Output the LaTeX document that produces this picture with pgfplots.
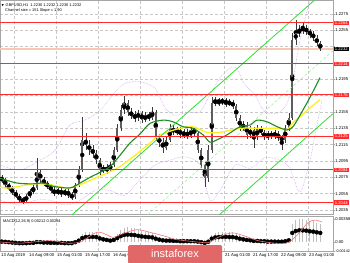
\documentclass[border=0pt]{standalone}
\usepackage{fontspec}
\setmainfont{Liberation Sans}
\newfontfamily\dejavu{DejaVu Sans}
\usepackage{pgfplots}
\usepackage{pgfplotstable}
\pgfplotsset{compat=1.18}

\definecolor{candle}{HTML}{5E5E5E}
\definecolor{wick}{HTML}{3A3A3A}
\definecolor{maY}{HTML}{FFEE22}
\definecolor{maG}{HTML}{1E8C1E}
\definecolor{chan}{HTML}{33DD33}
\definecolor{chanmid}{HTML}{99EE99}
\definecolor{band}{HTML}{CC99EE}
\definecolor{lvl}{HTML}{FF2A2A}
\definecolor{bid}{HTML}{F7C9B5}
\definecolor{hist}{HTML}{BEBEBE}
\definecolor{sig}{HTML}{F07878}
\definecolor{insta}{HTML}{E26868}
\definecolor{gridc}{HTML}{C8C8C8}

\newcommand\tf{\fontsize{4.2}{4.2}\selectfont}

\pgfplotstableread{
x o h l c
1.75 1.2074 1.2078 1.2068 1.2072
5.25 1.2072 1.2074 1.2062 1.2066
8.75 1.2066 1.2068 1.2058 1.2062
12.25 1.2062 1.2064 1.2053 1.2056
15.75 1.2056 1.2059 1.2050 1.2052
19.25 1.2052 1.2055 1.2045 1.2047
22.75 1.2047 1.2051 1.2042 1.2046
26.25 1.2046 1.2055 1.2044 1.2052
29.75 1.2052 1.2061 1.2050 1.2057
33.25 1.2057 1.2066 1.2055 1.2062
36.75 1.2062 1.2099 1.2059 1.2082
40.25 1.2082 1.2084 1.2068 1.2072
43.75 1.2072 1.2075 1.2064 1.2068
47.25 1.2068 1.2070 1.2061 1.2064
50.75 1.2064 1.2067 1.2056 1.2059
54.25 1.2059 1.2063 1.2052 1.2056
57.75 1.2056 1.2062 1.2053 1.2059
61.25 1.2059 1.2062 1.2051 1.2055
64.75 1.2055 1.2061 1.2052 1.2058
68.25 1.2058 1.2061 1.2050 1.2053
71.75 1.2053 1.2057 1.2047 1.2051
75.25 1.2051 1.2068 1.2048 1.2066
78.75 1.2066 1.2089 1.2063 1.2084
82.25 1.2084 1.2149 1.2082 1.2121
85.75 1.2121 1.2129 1.2108 1.2115
89.25 1.2115 1.2121 1.2102 1.2108
92.75 1.2108 1.2115 1.2099 1.2105
96.25 1.2105 1.2108 1.2091 1.2096
99.75 1.2096 1.2099 1.2078 1.2084
103.25 1.2084 1.2090 1.2080 1.2086
106.75 1.2086 1.2091 1.2079 1.2084
110.25 1.2084 1.2094 1.2082 1.2090
113.75 1.2090 1.2112 1.2088 1.2108
117.25 1.2108 1.2140 1.2106 1.2135
120.75 1.2135 1.2164 1.2132 1.2157
124.25 1.2157 1.2175 1.2153 1.2166
127.75 1.2166 1.2170 1.2150 1.2155
131.25 1.2155 1.2160 1.2146 1.2151
134.75 1.2151 1.2156 1.2143 1.2148
138.25 1.2148 1.2157 1.2144 1.2154
141.75 1.2154 1.2156 1.2142 1.2145
145.25 1.2145 1.2155 1.2143 1.2151
148.75 1.2151 1.2155 1.2144 1.2148
152.25 1.2148 1.2161 1.2145 1.2155
155.75 1.2155 1.2157 1.2119 1.2123
159.25 1.2123 1.2128 1.2112 1.2118
162.75 1.2118 1.2123 1.2105 1.2111
166.25 1.2111 1.2124 1.2108 1.2121
169.75 1.2121 1.2140 1.2118 1.2135
173.25 1.2135 1.2139 1.2127 1.2130
176.75 1.2130 1.2137 1.2127 1.2133
180.25 1.2133 1.2137 1.2123 1.2127
183.75 1.2127 1.2134 1.2123 1.2130
187.25 1.2130 1.2134 1.2122 1.2126
190.75 1.2126 1.2137 1.2123 1.2133
194.25 1.2133 1.2137 1.2126 1.2129
197.75 1.2129 1.2132 1.2105 1.2108
201.25 1.2108 1.2111 1.2086 1.2090
204.75 1.2090 1.2094 1.2063 1.2074
208.25 1.2074 1.2115 1.2069 1.2108
211.75 1.2108 1.2173 1.2105 1.2166
215.25 1.2166 1.2173 1.2162 1.2170
218.75 1.2170 1.2172 1.2162 1.2166
222.25 1.2166 1.2172 1.2164 1.2170
225.75 1.2170 1.2172 1.2161 1.2165
229.25 1.2165 1.2171 1.2162 1.2167
232.75 1.2167 1.2170 1.2159 1.2162
236.25 1.2162 1.2165 1.2144 1.2148
239.75 1.2148 1.2151 1.2132 1.2135
243.25 1.2135 1.2144 1.2132 1.2139
246.75 1.2139 1.2143 1.2122 1.2127
250.25 1.2127 1.2138 1.2123 1.2133
253.75 1.2133 1.2137 1.2111 1.2124
257.25 1.2124 1.2139 1.2121 1.2135
260.75 1.2135 1.2138 1.2127 1.2130
264.25 1.2130 1.2133 1.2121 1.2124
267.75 1.2124 1.2132 1.2121 1.2128
271.25 1.2128 1.2132 1.2122 1.2126
274.75 1.2126 1.2133 1.2122 1.2129
278.25 1.2129 1.2132 1.2119 1.2123
281.75 1.2123 1.2127 1.2108 1.2121
285.25 1.2121 1.2139 1.2117 1.2135
288.75 1.2135 1.2154 1.2132 1.2148
292.25 1.2148 1.2252 1.2145 1.2243
295.75 1.2243 1.2268 1.2237 1.2252
299.25 1.2252 1.2262 1.2247 1.2255
302.75 1.2255 1.2265 1.2251 1.2258
306.25 1.2258 1.2262 1.2249 1.2253
309.75 1.2253 1.2257 1.2246 1.2251
313.25 1.2251 1.2254 1.2242 1.2246
316.75 1.2246 1.2249 1.2236 1.2239
320.25 1.2239 1.2242 1.2230 1.2232
}\candles

\pgfplotstableread{
x v
1.75 0.0001
5.25 0.00003
8.75 -0.0001
12.25 -0.0002
15.75 -0.0003
19.25 -0.0004
22.75 -0.0004
26.25 -0.0004
29.75 -0.0003
33.25 -0.0003
36.75 -0.00005
40.25 -0.0001
43.75 -0.0002
47.25 -0.0002
50.75 -0.0003
54.25 -0.0003
57.75 -0.0003
61.25 -0.0003
64.75 -0.0004
68.25 -0.0004
71.75 -0.0004
75.25 -0.0001
78.75 0.0004
82.25 0.0012
85.75 0.0015
89.25 0.0016
92.75 0.0016
96.25 0.0015
99.75 0.0011
103.25 0.0008
106.75 0.0006
110.25 0.0004
113.75 0.0006
117.25 0.0012
120.75 0.0018
124.25 0.0022
127.75 0.0023
131.25 0.0022
134.75 0.0021
138.25 0.0019
141.75 0.0017
145.25 0.0016
148.75 0.0015
152.25 0.0014
155.75 0.0010
159.25 0.0007
162.75 0.0005
166.25 0.0004
169.75 0.0004
173.25 0.0003
176.75 0.0003
180.25 0.0002
183.75 0.0002
187.25 0.0002
190.75 0.0002
194.25 0.0002
197.75 0.0001
201.25 -0.0001
204.75 -0.0003
208.25 0.00005
211.75 0.0010
215.25 0.0014
218.75 0.0015
222.25 0.0016
225.75 0.0016
229.25 0.0015
232.75 0.0015
236.25 0.0013
239.75 0.0010
243.25 0.0008
246.75 0.0006
250.25 0.0005
253.75 0.0003
257.25 0.0003
260.75 0.0002
264.25 0.0002
267.75 0.0001
271.25 0.0001
274.75 0.0001
278.25 0.00005
281.75 0.00005
285.25 0.0002
288.75 0.0005
292.25 0.0028
295.75 0.0034
299.25 0.0036
302.75 0.0036
306.25 0.0035
309.75 0.0033
313.25 0.0032
316.75 0.0030
320.25 0.0028
}\macd

\begin{document}
\begin{tikzpicture}
\useasboundingbox (0,0) rectangle (350pt,262pt);
\begin{axis}[
  at={(0pt,48pt)}, anchor=south west, scale only axis,
  width=333pt, height=214pt,
  xmin=0, xmax=333, ymin=1.20301, ymax=1.22921,
  clip mode=individual,
  axis line style={draw=gray!70, line width=0.5pt},
  xtick={14,56,98,140,182,224,266,308}, xticklabels={}, xtick style={draw=none},
  ytick={1.2035,1.2055,1.2075,1.2095,1.2115,1.2135,1.2155,1.2175,1.2195,1.2215,1.2235,1.2255,1.2275},
  yticklabels={1.2035,1.2055,1.2075,1.2095,1.2115,1.2135,1.2155,{},1.2195,{},{},1.2255,1.2275},
  ytick pos=right, yticklabel pos=right,
  ytick style={draw=gray!70, line width=0.4pt}, tick align=outside, major tick length=1.5pt,
  yticklabel style={font=\tf, inner sep=0.6pt},
  grid=major, grid style={gridc, densely dashed, line width=0.4pt},
  scaled y ticks=false,
]
\addplot[bid, line width=1.6pt] coordinates {(0,1.2232) (333,1.2232)};
\addplot[band, densely dotted, line width=0.55pt, smooth] coordinates {
(0,1.2090) (20,1.2084) (40,1.2096) (55,1.2108) (70,1.2139) (85,1.2145) (100,1.2157) (115,1.2179) (125,1.2190) (140,1.2192) (155,1.2184) (165,1.2160) (175,1.2151) (190,1.2155) (200,1.2155) (210,1.2176) (222,1.2200) (235,1.2210) (245,1.2188) (255,1.2176) (265,1.2155) (280,1.2155) (290,1.2176) (300,1.2243) (310,1.2292) (315,1.2317)};
\addplot[band, densely dotted, line width=0.55pt, smooth] coordinates {
(0,1.2047) (20,1.2041) (35,1.2047) (50,1.2047) (65,1.2041) (80,1.2047) (95,1.2059) (110,1.2059) (125,1.2053) (140,1.2072) (155,1.2090) (170,1.2096) (185,1.2100) (200,1.2090) (210,1.2047) (220,1.2059) (235,1.2090) (250,1.2086) (265,1.2099) (280,1.2096) (290,1.2086) (300,1.2057) (310,1.2096) (317,1.2139) (322,1.2170)};
\addplot[only marks, mark=none, error bars/.cd, y dir=both, y explicit, error mark=none,
  error bar style={draw=wick, line width=0.45pt}]
  table[x=x, y expr={(\thisrow{h}+\thisrow{l})/2}, y error expr={(\thisrow{h}-\thisrow{l})/2}] {\candles};
\addplot[only marks, mark=none, error bars/.cd, y dir=both, y explicit, error mark=none,
  error bar style={draw=candle, line width=1.8pt}]
  table[x=x, y expr={(\thisrow{o}+\thisrow{c})/2}, y error expr={abs(\thisrow{c}-\thisrow{o})/2}] {\candles};
\addplot[maY, line width=1.3pt, smooth] coordinates {
(0,1.2063) (10,1.2062) (33,1.2067) (50,1.2066) (67,1.2062) (80,1.2066) (97,1.2075) (117,1.2086) (133,1.2100) (150,1.2117) (160,1.2127) (180,1.2135) (193,1.2137) (207,1.2130) (220,1.2130) (240,1.2135) (260,1.2135) (280,1.2135) (287,1.2133) (293,1.2142) (300,1.2149) (310,1.2160) (320,1.2170)};
\addplot[maG, line width=1.1pt, smooth] coordinates {
(0,1.2074) (17,1.2068) (33,1.2067) (43,1.2068) (53,1.2064) (70,1.2062) (80,1.2068) (90,1.2075) (100,1.2081) (110,1.2088) (120,1.2102) (130,1.2117) (140,1.2128) (150,1.2141) (163,1.2145) (173,1.2143) (183,1.2137) (193,1.2135) (203,1.2127) (210,1.2118) (217,1.2121) (227,1.2127) (240,1.2137) (250,1.2139) (257,1.2145) (267,1.2143) (277,1.2137) (287,1.2133) (293,1.2137) (300,1.2151) (310,1.2173) (320,1.2197)};
\addplot[chan, line width=0.8pt] coordinates {(70,1.2027) (333,1.2312)};
\addplot[chanmid, densely dashed, line width=0.5pt] coordinates {(140,1.2021) (333,1.2230)};
\addplot[chan, line width=0.8pt] coordinates {(210,1.2019) (333,1.2153)};
\addplot[lvl, line width=1pt] coordinates {(0,1.2264) (333,1.2264)};
\addplot[lvl, line width=1pt] coordinates {(0,1.2214) (333,1.2214)};
\addplot[lvl, line width=1pt] coordinates {(0,1.2176) (333,1.2176)};
\addplot[lvl, line width=1pt] coordinates {(0,1.2125) (333,1.2125)};
\addplot[lvl, line width=1pt] coordinates {(0,1.2084) (333,1.2084)};
\addplot[lvl, line width=1pt] coordinates {(0,1.2044) (333,1.2044)};
\tikzset{lab/.style={fill=lvl, text=white, font=\tf, inner xsep=1.2pt, inner ysep=0.8pt, anchor=west}}
\node[lab] at (axis cs:333.5,1.2264) {1.2264};
\node[lab] at (axis cs:333.5,1.2214) {1.2214};
\node[lab] at (axis cs:333.5,1.2176) {1.2176};
\node[lab] at (axis cs:333.5,1.2125) {1.2125};
\node[lab] at (axis cs:333.5,1.2084) {1.2084};
\node[lab] at (axis cs:333.5,1.2044) {1.2044};
\node[lab, fill=black] at (axis cs:333.5,1.2232) {1.2232};
\end{axis}

\begin{axis}[
  at={(0pt,11pt)}, anchor=south west, scale only axis,
  width=333pt, height=35pt,
  xmin=0, xmax=333, ymin=-0.00142, ymax=0.00405,
  disabledatascaling,
  clip mode=individual,
  axis line style={draw=gray!70, line width=0.5pt},
  xtick={1,29,57,85,113,141,169,197,225,253,281,309},
  xticklabels={13 Aug 2019,14 Aug 09:00,15 Aug 01:00,15 Aug 17:00,16 Aug 09:00,{},{},{},21 Aug 01:00,21 Aug 17:00,22 Aug 09:00,23 Aug 01:00},
  xtick pos=bottom,
  xticklabel style={font=\tf, anchor=north west, inner sep=0.5pt, xshift=-0.5pt},
  extra x ticks={14,56,98,140,182,224,266,308}, extra x tick labels={},
  extra x tick style={grid=major, major tick length=0pt},
  grid style={gridc, densely dashed, line width=0.4pt},
  ytick={-0.00142,0,0.00358}, yticklabels={{\fontsize{3.7}{3.7}\selectfont -0.00142},0.00,0.00358},
  ytick pos=right, yticklabel pos=right,
  tick style={draw=gray!70, line width=0.4pt}, tick align=outside, major tick length=1.5pt,
  yticklabel style={font=\tf, inner sep=0.6pt},
  scaled y ticks=false,
]
\addplot[only marks, mark=none, error bars/.cd, y dir=both, y explicit, error mark=none,
  error bar style={draw=hist, line width=1.1pt}]
  table[x=x, y expr={\thisrow{v}/2}, y error expr={abs(\thisrow{v})/2}] {\macd};
\addplot[sig, line width=0.6pt, smooth] coordinates {
(0,0.0000) (20,-0.0002) (50,0.0002) (67,-0.0002) (80,0.0000) (97,0.0015) (107,0.0011) (113,0.0007) (123,0.0013) (137,0.0019) (150,0.0015) (167,0.0008) (175,0.0004) (190,0.0001) (208,-0.0001) (218,0.0007) (232,0.0014) (245,0.0009) (258,0.0002) (275,-0.0002) (288,-0.0001) (298,0.0012) (308,0.0030) (315,0.0034) (322,0.0031)};
\end{axis}

\node[anchor=west, font=\fontsize{3.9}{3.9}\selectfont, inner sep=0pt] at (1.5pt,257pt) {{\dejavu\fontsize{3}{3}\selectfont ▼}\, GBPUSD,H1\ \ 1.2230 1.2232 1.2230 1.2232};
\node[anchor=west, font=\fontsize{3.9}{3.9}\selectfont, inner sep=0pt] at (5pt,251.5pt) {Channel size = 151 Slope = 1.90};
\node[anchor=west, font=\fontsize{3.9}{3.9}\selectfont, inner sep=0pt] at (3pt,41pt) {MACD(12,26,9) 0.00212 0.00284};
\fill[insta, rounded corners=1.5pt] (128pt,-2pt) rectangle (222pt,17pt);
\node[anchor=base, text=white, font=\fontsize{11}{11}\selectfont, inner sep=0pt] at (175pt,5pt) {instaforex};
\end{tikzpicture}
\end{document}
